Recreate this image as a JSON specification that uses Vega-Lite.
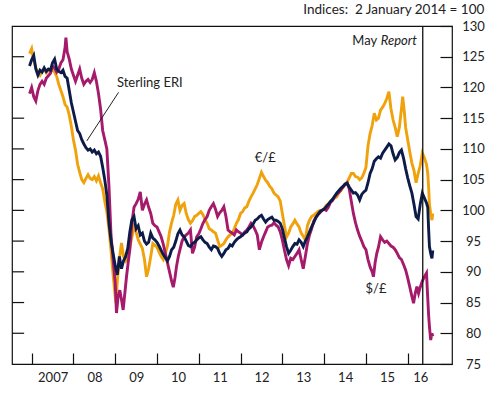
{
  "$schema": "https://vega.github.io/schema/vega-lite/v6.json",
  "width": 440,
  "height": 338,
  "autosize": "none",
  "padding": {"left": 12, "top": 26, "right": 40, "bottom": 31},
  "background": "white",
  "config": {
    "view": {"stroke": "#111", "strokeWidth": 1.2},
    "font": "Lato",
    "axis": {"labelFont": "Lato", "labelFontSize": 13, "labelColor": "#222", "tickColor": "#111", "tickWidth": 1.2, "domain": false, "grid": false, "title": null}
  },
  "title": {"text": "Indices:\u00a0 2 January 2014 = 100", "anchor": "end", "fontSize": 13.5, "fontWeight": "normal", "font": "Lato", "color": "#222", "offset": 4},
  "datasets": {
    "eur": [
      {"t":2006.95,"v":125.5},{"t":2007.0,"v":126.3},{"t":2007.03,"v":125.0},{"t":2007.05,"v":124.5},{"t":2007.1,"v":123.2},{"t":2007.15,"v":122.5},{"t":2007.2,"v":122.0},{"t":2007.25,"v":122.6},{"t":2007.3,"v":123.0},{"t":2007.35,"v":122.4},{"t":2007.4,"v":122.8},{"t":2007.45,"v":122.5},{"t":2007.5,"v":123.0},{"t":2007.55,"v":122.5},{"t":2007.6,"v":121.8},{"t":2007.65,"v":120.5},{"t":2007.7,"v":119.5},{"t":2007.75,"v":118.5},{"t":2007.8,"v":117.2},{"t":2007.85,"v":116.8},{"t":2007.9,"v":115.5},{"t":2007.95,"v":113.7},{"t":2008.0,"v":111.5},{"t":2008.05,"v":109.8},{"t":2008.1,"v":107.5},{"t":2008.15,"v":106.2},{"t":2008.2,"v":105.0},{"t":2008.25,"v":104.5},{"t":2008.3,"v":105.2},{"t":2008.35,"v":105.8},{"t":2008.4,"v":105.2},{"t":2008.45,"v":105.0},{"t":2008.5,"v":105.5},{"t":2008.55,"v":104.8},{"t":2008.6,"v":105.6},{"t":2008.65,"v":104.5},{"t":2008.7,"v":103.5},{"t":2008.75,"v":101.5},{"t":2008.8,"v":99.8},{"t":2008.85,"v":97.0},{"t":2008.9,"v":93.5},{"t":2008.95,"v":89.5},{"t":2009.0,"v":86.0},{"t":2009.02,"v":84.9},{"t":2009.05,"v":88.5},{"t":2009.1,"v":92.0},{"t":2009.15,"v":94.7},{"t":2009.2,"v":92.5},{"t":2009.25,"v":91.8},{"t":2009.3,"v":92.5},{"t":2009.35,"v":94.0},{"t":2009.4,"v":95.7},{"t":2009.45,"v":97.3},{"t":2009.5,"v":96.5},{"t":2009.55,"v":95.2},{"t":2009.6,"v":94.5},{"t":2009.65,"v":93.8},{"t":2009.7,"v":92.0},{"t":2009.75,"v":89.2},{"t":2009.8,"v":90.5},{"t":2009.85,"v":92.5},{"t":2009.9,"v":94.6},{"t":2009.95,"v":94.3},{"t":2010.0,"v":94.0},{"t":2010.05,"v":93.2},{"t":2010.1,"v":92.5},{"t":2010.15,"v":92.0},{"t":2010.2,"v":93.0},{"t":2010.25,"v":94.2},{"t":2010.3,"v":96.5},{"t":2010.35,"v":98.0},{"t":2010.4,"v":99.2},{"t":2010.45,"v":101.0},{"t":2010.5,"v":101.7},{"t":2010.55,"v":100.0},{"t":2010.6,"v":100.8},{"t":2010.65,"v":101.1},{"t":2010.7,"v":99.5},{"t":2010.75,"v":98.5},{"t":2010.8,"v":97.9},{"t":2010.85,"v":98.3},{"t":2010.9,"v":99.0},{"t":2010.95,"v":99.2},{"t":2011.0,"v":99.5},{"t":2011.05,"v":99.8},{"t":2011.1,"v":99.3},{"t":2011.15,"v":98.5},{"t":2011.2,"v":97.9},{"t":2011.25,"v":97.0},{"t":2011.3,"v":96.8},{"t":2011.35,"v":96.5},{"t":2011.4,"v":96.3},{"t":2011.45,"v":95.2},{"t":2011.5,"v":94.1},{"t":2011.55,"v":94.3},{"t":2011.6,"v":94.6},{"t":2011.65,"v":95.2},{"t":2011.7,"v":95.7},{"t":2011.75,"v":96.0},{"t":2011.8,"v":96.3},{"t":2011.85,"v":97.0},{"t":2011.9,"v":97.9},{"t":2011.95,"v":98.5},{"t":2012.0,"v":99.5},{"t":2012.05,"v":99.8},{"t":2012.1,"v":100.4},{"t":2012.15,"v":100.6},{"t":2012.2,"v":101.5},{"t":2012.25,"v":102.2},{"t":2012.3,"v":102.8},{"t":2012.35,"v":103.5},{"t":2012.4,"v":104.2},{"t":2012.45,"v":105.2},{"t":2012.5,"v":106.2},{"t":2012.55,"v":105.5},{"t":2012.6,"v":104.9},{"t":2012.65,"v":104.5},{"t":2012.7,"v":103.9},{"t":2012.75,"v":103.5},{"t":2012.8,"v":102.8},{"t":2012.85,"v":102.5},{"t":2012.9,"v":102.2},{"t":2012.95,"v":101.5},{"t":2013.0,"v":99.5},{"t":2013.05,"v":97.5},{"t":2013.1,"v":95.7},{"t":2013.15,"v":96.3},{"t":2013.2,"v":97.3},{"t":2013.25,"v":97.8},{"t":2013.3,"v":98.4},{"t":2013.35,"v":97.8},{"t":2013.4,"v":97.3},{"t":2013.45,"v":96.3},{"t":2013.5,"v":95.8},{"t":2013.55,"v":95.2},{"t":2013.6,"v":97.5},{"t":2013.65,"v":98.4},{"t":2013.7,"v":99.0},{"t":2013.75,"v":99.2},{"t":2013.8,"v":99.5},{"t":2013.85,"v":99.8},{"t":2013.9,"v":100.0},{"t":2013.95,"v":100.0},{"t":2014.0,"v":100.3},{"t":2014.05,"v":100.8},{"t":2014.1,"v":101.0},{"t":2014.15,"v":101.5},{"t":2014.2,"v":101.7},{"t":2014.25,"v":102.0},{"t":2014.3,"v":102.2},{"t":2014.35,"v":102.8},{"t":2014.4,"v":103.3},{"t":2014.45,"v":103.7},{"t":2014.5,"v":104.2},{"t":2014.55,"v":104.6},{"t":2014.6,"v":105.3},{"t":2014.65,"v":106.0},{"t":2014.7,"v":106.0},{"t":2014.75,"v":105.5},{"t":2014.8,"v":105.4},{"t":2014.85,"v":105.0},{"t":2014.9,"v":105.3},{"t":2014.95,"v":106.0},{"t":2015.0,"v":107.0},{"t":2015.05,"v":110.5},{"t":2015.1,"v":112.5},{"t":2015.15,"v":113.8},{"t":2015.2,"v":115.8},{"t":2015.25,"v":114.7},{"t":2015.3,"v":115.0},{"t":2015.35,"v":116.3},{"t":2015.4,"v":116.8},{"t":2015.45,"v":117.4},{"t":2015.5,"v":118.2},{"t":2015.55,"v":119.3},{"t":2015.6,"v":116.5},{"t":2015.65,"v":114.7},{"t":2015.7,"v":113.5},{"t":2015.75,"v":112.0},{"t":2015.8,"v":113.5},{"t":2015.85,"v":116.5},{"t":2015.88,"v":118.5},{"t":2015.92,"v":116.0},{"t":2015.95,"v":113.5},{"t":2016.0,"v":111.5},{"t":2016.05,"v":109.5},{"t":2016.1,"v":107.7},{"t":2016.15,"v":106.5},{"t":2016.2,"v":104.5},{"t":2016.25,"v":106.0},{"t":2016.3,"v":107.3},{"t":2016.35,"v":109.3},{"t":2016.4,"v":108.5},{"t":2016.45,"v":107.5},{"t":2016.48,"v":106.0},{"t":2016.5,"v":103.8},{"t":2016.52,"v":101.0},{"t":2016.55,"v":99.5},{"t":2016.58,"v":98.4},{"t":2016.6,"v":99.5}
    ],
    "usd": [
      {"t":2006.95,"v":119.0},{"t":2007.0,"v":120.0},{"t":2007.05,"v":118.5},{"t":2007.1,"v":117.8},{"t":2007.15,"v":119.5},{"t":2007.2,"v":120.5},{"t":2007.25,"v":121.0},{"t":2007.3,"v":120.5},{"t":2007.35,"v":121.5},{"t":2007.4,"v":121.9},{"t":2007.45,"v":122.3},{"t":2007.5,"v":123.5},{"t":2007.55,"v":123.2},{"t":2007.6,"v":122.5},{"t":2007.65,"v":123.0},{"t":2007.7,"v":124.0},{"t":2007.75,"v":124.5},{"t":2007.8,"v":126.5},{"t":2007.82,"v":128.1},{"t":2007.85,"v":125.8},{"t":2007.9,"v":124.6},{"t":2007.95,"v":123.0},{"t":2008.0,"v":122.0},{"t":2008.05,"v":121.0},{"t":2008.1,"v":122.0},{"t":2008.15,"v":123.0},{"t":2008.2,"v":121.5},{"t":2008.25,"v":120.5},{"t":2008.3,"v":121.0},{"t":2008.35,"v":121.3},{"t":2008.4,"v":120.8},{"t":2008.45,"v":121.3},{"t":2008.5,"v":122.4},{"t":2008.55,"v":121.0},{"t":2008.6,"v":119.0},{"t":2008.65,"v":116.5},{"t":2008.7,"v":113.0},{"t":2008.75,"v":111.5},{"t":2008.8,"v":110.0},{"t":2008.85,"v":104.0},{"t":2008.9,"v":96.0},{"t":2008.95,"v":92.0},{"t":2009.0,"v":88.2},{"t":2009.03,"v":83.3},{"t":2009.07,"v":86.0},{"t":2009.11,"v":87.0},{"t":2009.15,"v":85.5},{"t":2009.19,"v":83.8},{"t":2009.23,"v":86.5},{"t":2009.27,"v":89.2},{"t":2009.31,"v":91.5},{"t":2009.35,"v":93.6},{"t":2009.4,"v":98.0},{"t":2009.45,"v":100.5},{"t":2009.5,"v":101.1},{"t":2009.55,"v":101.8},{"t":2009.6,"v":103.0},{"t":2009.65,"v":100.0},{"t":2009.7,"v":101.0},{"t":2009.75,"v":101.7},{"t":2009.8,"v":100.5},{"t":2009.85,"v":99.5},{"t":2009.9,"v":97.9},{"t":2009.95,"v":97.5},{"t":2010.0,"v":97.3},{"t":2010.05,"v":96.5},{"t":2010.1,"v":95.7},{"t":2010.15,"v":94.5},{"t":2010.2,"v":93.0},{"t":2010.25,"v":91.5},{"t":2010.3,"v":90.0},{"t":2010.35,"v":88.5},{"t":2010.39,"v":87.5},{"t":2010.43,"v":89.0},{"t":2010.47,"v":91.0},{"t":2010.51,"v":92.5},{"t":2010.55,"v":93.6},{"t":2010.6,"v":95.0},{"t":2010.65,"v":95.7},{"t":2010.7,"v":96.0},{"t":2010.75,"v":96.3},{"t":2010.8,"v":96.8},{"t":2010.85,"v":93.0},{"t":2010.9,"v":94.0},{"t":2010.95,"v":95.7},{"t":2011.0,"v":96.2},{"t":2011.05,"v":97.0},{"t":2011.1,"v":97.9},{"t":2011.15,"v":98.5},{"t":2011.2,"v":99.0},{"t":2011.25,"v":100.0},{"t":2011.3,"v":100.6},{"t":2011.35,"v":101.1},{"t":2011.4,"v":100.2},{"t":2011.45,"v":99.0},{"t":2011.5,"v":99.6},{"t":2011.55,"v":100.0},{"t":2011.6,"v":100.6},{"t":2011.65,"v":99.0},{"t":2011.7,"v":96.8},{"t":2011.75,"v":96.5},{"t":2011.8,"v":96.3},{"t":2011.85,"v":96.0},{"t":2011.9,"v":96.8},{"t":2011.95,"v":96.5},{"t":2012.0,"v":96.3},{"t":2012.05,"v":96.0},{"t":2012.1,"v":96.5},{"t":2012.15,"v":96.8},{"t":2012.2,"v":97.3},{"t":2012.25,"v":97.9},{"t":2012.3,"v":97.5},{"t":2012.35,"v":96.8},{"t":2012.4,"v":96.0},{"t":2012.45,"v":93.6},{"t":2012.5,"v":94.8},{"t":2012.55,"v":95.7},{"t":2012.6,"v":96.5},{"t":2012.65,"v":97.3},{"t":2012.7,"v":97.5},{"t":2012.75,"v":97.6},{"t":2012.8,"v":98.0},{"t":2012.85,"v":97.6},{"t":2012.9,"v":97.3},{"t":2012.95,"v":96.5},{"t":2013.0,"v":95.2},{"t":2013.05,"v":93.5},{"t":2013.1,"v":92.0},{"t":2013.15,"v":91.0},{"t":2013.2,"v":92.2},{"t":2013.25,"v":92.0},{"t":2013.3,"v":92.5},{"t":2013.35,"v":93.0},{"t":2013.4,"v":93.6},{"t":2013.45,"v":92.0},{"t":2013.5,"v":90.5},{"t":2013.55,"v":92.5},{"t":2013.6,"v":94.6},{"t":2013.65,"v":96.0},{"t":2013.7,"v":97.0},{"t":2013.75,"v":98.2},{"t":2013.8,"v":98.8},{"t":2013.85,"v":99.3},{"t":2013.9,"v":99.6},{"t":2013.95,"v":100.0},{"t":2014.0,"v":100.2},{"t":2014.05,"v":100.0},{"t":2014.1,"v":100.5},{"t":2014.15,"v":101.3},{"t":2014.2,"v":101.6},{"t":2014.25,"v":102.2},{"t":2014.3,"v":102.6},{"t":2014.35,"v":102.9},{"t":2014.4,"v":103.3},{"t":2014.45,"v":103.8},{"t":2014.5,"v":104.2},{"t":2014.55,"v":104.5},{"t":2014.6,"v":103.5},{"t":2014.65,"v":101.5},{"t":2014.7,"v":99.5},{"t":2014.75,"v":98.0},{"t":2014.8,"v":96.8},{"t":2014.85,"v":95.8},{"t":2014.9,"v":95.0},{"t":2014.95,"v":94.1},{"t":2015.0,"v":93.6},{"t":2015.05,"v":92.0},{"t":2015.1,"v":90.8},{"t":2015.15,"v":90.0},{"t":2015.18,"v":89.2},{"t":2015.22,"v":91.5},{"t":2015.26,"v":93.0},{"t":2015.3,"v":94.0},{"t":2015.35,"v":95.7},{"t":2015.4,"v":95.2},{"t":2015.45,"v":94.8},{"t":2015.5,"v":95.0},{"t":2015.55,"v":94.6},{"t":2015.6,"v":94.2},{"t":2015.65,"v":94.0},{"t":2015.7,"v":93.6},{"t":2015.75,"v":93.0},{"t":2015.8,"v":92.3},{"t":2015.85,"v":92.0},{"t":2015.9,"v":91.2},{"t":2015.95,"v":90.3},{"t":2016.0,"v":89.0},{"t":2016.05,"v":87.5},{"t":2016.1,"v":86.0},{"t":2016.14,"v":84.9},{"t":2016.18,"v":86.5},{"t":2016.22,"v":87.6},{"t":2016.26,"v":86.5},{"t":2016.3,"v":87.5},{"t":2016.35,"v":88.5},{"t":2016.4,"v":89.2},{"t":2016.45,"v":89.8},{"t":2016.47,"v":87.0},{"t":2016.5,"v":83.0},{"t":2016.52,"v":81.1},{"t":2016.55,"v":78.9},{"t":2016.58,"v":80.0},{"t":2016.6,"v":79.5}
    ],
    "eri": [
      {"t":2006.95,"v":123.5},{"t":2007.0,"v":124.5},{"t":2007.05,"v":125.2},{"t":2007.1,"v":123.0},{"t":2007.15,"v":122.0},{"t":2007.2,"v":122.8},{"t":2007.25,"v":122.5},{"t":2007.3,"v":123.2},{"t":2007.35,"v":122.6},{"t":2007.4,"v":123.0},{"t":2007.45,"v":122.8},{"t":2007.5,"v":124.0},{"t":2007.55,"v":124.6},{"t":2007.6,"v":123.0},{"t":2007.65,"v":122.6},{"t":2007.7,"v":122.4},{"t":2007.75,"v":122.8},{"t":2007.8,"v":121.8},{"t":2007.85,"v":121.5},{"t":2007.9,"v":119.5},{"t":2007.95,"v":117.5},{"t":2008.0,"v":116.0},{"t":2008.05,"v":114.5},{"t":2008.1,"v":113.0},{"t":2008.15,"v":112.5},{"t":2008.2,"v":111.5},{"t":2008.25,"v":110.8},{"t":2008.3,"v":110.2},{"t":2008.35,"v":109.8},{"t":2008.4,"v":110.0},{"t":2008.45,"v":109.5},{"t":2008.5,"v":109.8},{"t":2008.55,"v":109.2},{"t":2008.6,"v":109.5},{"t":2008.65,"v":108.8},{"t":2008.7,"v":107.0},{"t":2008.75,"v":105.0},{"t":2008.8,"v":102.5},{"t":2008.85,"v":98.0},{"t":2008.9,"v":95.0},{"t":2008.95,"v":93.0},{"t":2009.0,"v":91.0},{"t":2009.05,"v":89.5},{"t":2009.1,"v":92.5},{"t":2009.15,"v":90.5},{"t":2009.2,"v":91.8},{"t":2009.25,"v":92.5},{"t":2009.3,"v":93.8},{"t":2009.35,"v":96.5},{"t":2009.4,"v":98.5},{"t":2009.45,"v":99.0},{"t":2009.5,"v":97.0},{"t":2009.55,"v":97.5},{"t":2009.6,"v":96.0},{"t":2009.65,"v":96.3},{"t":2009.7,"v":95.0},{"t":2009.75,"v":94.5},{"t":2009.8,"v":94.8},{"t":2009.85,"v":96.3},{"t":2009.9,"v":95.5},{"t":2009.95,"v":95.2},{"t":2010.0,"v":94.8},{"t":2010.05,"v":94.2},{"t":2010.1,"v":93.5},{"t":2010.15,"v":92.8},{"t":2010.2,"v":92.3},{"t":2010.25,"v":91.8},{"t":2010.3,"v":92.5},{"t":2010.35,"v":93.6},{"t":2010.4,"v":94.0},{"t":2010.45,"v":95.0},{"t":2010.5,"v":96.2},{"t":2010.55,"v":96.8},{"t":2010.6,"v":96.0},{"t":2010.65,"v":95.7},{"t":2010.7,"v":95.0},{"t":2010.75,"v":94.3},{"t":2010.8,"v":94.1},{"t":2010.85,"v":94.6},{"t":2010.9,"v":94.8},{"t":2010.95,"v":95.2},{"t":2011.0,"v":95.5},{"t":2011.05,"v":95.7},{"t":2011.1,"v":95.2},{"t":2011.15,"v":94.8},{"t":2011.2,"v":94.6},{"t":2011.25,"v":94.0},{"t":2011.3,"v":93.6},{"t":2011.35,"v":94.2},{"t":2011.4,"v":94.1},{"t":2011.45,"v":93.8},{"t":2011.5,"v":93.0},{"t":2011.55,"v":92.5},{"t":2011.6,"v":93.0},{"t":2011.65,"v":93.6},{"t":2011.7,"v":93.8},{"t":2011.75,"v":94.4},{"t":2011.8,"v":94.2},{"t":2011.85,"v":94.8},{"t":2011.9,"v":95.2},{"t":2011.95,"v":95.5},{"t":2012.0,"v":95.7},{"t":2012.05,"v":96.0},{"t":2012.1,"v":96.3},{"t":2012.15,"v":96.5},{"t":2012.2,"v":97.0},{"t":2012.25,"v":97.3},{"t":2012.3,"v":97.8},{"t":2012.35,"v":98.4},{"t":2012.4,"v":98.6},{"t":2012.45,"v":99.0},{"t":2012.5,"v":99.2},{"t":2012.55,"v":98.6},{"t":2012.6,"v":98.1},{"t":2012.65,"v":98.5},{"t":2012.7,"v":98.7},{"t":2012.75,"v":98.9},{"t":2012.8,"v":98.4},{"t":2012.85,"v":98.4},{"t":2012.9,"v":98.2},{"t":2012.95,"v":97.9},{"t":2013.0,"v":97.0},{"t":2013.05,"v":95.5},{"t":2013.1,"v":94.1},{"t":2013.15,"v":93.0},{"t":2013.2,"v":93.5},{"t":2013.25,"v":94.1},{"t":2013.3,"v":94.6},{"t":2013.35,"v":94.5},{"t":2013.4,"v":95.2},{"t":2013.45,"v":94.8},{"t":2013.5,"v":94.1},{"t":2013.55,"v":95.0},{"t":2013.6,"v":95.7},{"t":2013.65,"v":96.5},{"t":2013.7,"v":97.3},{"t":2013.75,"v":98.0},{"t":2013.8,"v":98.8},{"t":2013.85,"v":99.3},{"t":2013.9,"v":99.8},{"t":2013.95,"v":100.0},{"t":2014.0,"v":100.2},{"t":2014.05,"v":100.6},{"t":2014.1,"v":101.0},{"t":2014.15,"v":101.4},{"t":2014.2,"v":101.8},{"t":2014.25,"v":102.3},{"t":2014.3,"v":102.8},{"t":2014.35,"v":103.2},{"t":2014.4,"v":103.6},{"t":2014.45,"v":103.9},{"t":2014.5,"v":104.3},{"t":2014.55,"v":104.4},{"t":2014.6,"v":103.8},{"t":2014.65,"v":103.3},{"t":2014.7,"v":102.8},{"t":2014.75,"v":102.9},{"t":2014.8,"v":102.5},{"t":2014.85,"v":101.7},{"t":2014.9,"v":102.6},{"t":2014.95,"v":103.0},{"t":2015.0,"v":103.3},{"t":2015.05,"v":104.5},{"t":2015.1,"v":106.0},{"t":2015.15,"v":106.8},{"t":2015.2,"v":108.0},{"t":2015.25,"v":108.4},{"t":2015.3,"v":108.7},{"t":2015.35,"v":108.5},{"t":2015.4,"v":109.3},{"t":2015.45,"v":109.8},{"t":2015.5,"v":110.3},{"t":2015.55,"v":110.8},{"t":2015.6,"v":110.5},{"t":2015.65,"v":109.2},{"t":2015.7,"v":108.2},{"t":2015.75,"v":108.6},{"t":2015.8,"v":109.4},{"t":2015.85,"v":109.8},{"t":2015.9,"v":108.5},{"t":2015.95,"v":106.8},{"t":2016.0,"v":105.3},{"t":2016.05,"v":104.0},{"t":2016.1,"v":102.8},{"t":2016.15,"v":101.0},{"t":2016.2,"v":99.0},{"t":2016.25,"v":98.6},{"t":2016.3,"v":101.0},{"t":2016.35,"v":102.8},{"t":2016.4,"v":102.0},{"t":2016.45,"v":101.2},{"t":2016.48,"v":100.5},{"t":2016.5,"v":97.0},{"t":2016.52,"v":94.1},{"t":2016.55,"v":93.0},{"t":2016.58,"v":92.2},{"t":2016.6,"v":93.5}
    ],
    "lticks": [{"v":80},{"v":85},{"v":90},{"v":95},{"v":100},{"v":105},{"v":110},{"v":115},{"v":120},{"v":125}],
    "labels": [
      {"t":2012.59,"v":108.5,"label":"€/£"},
      {"t":2015.24,"v":87.2,"label":"$/£"}
    ],
    "eriLabel": [
      {"t":2009.04,"v":120.8,"label":"Sterling ERI"}
    ],
    "may": [
      {"t":2015.27,"v":127.5,"label":"May"}
    ],
    "italic": [
      {"t":2016.22,"v":127.5,"label":"Report"}
    ],
    "leader": [
      {"t":2009.08,"v":119.2,"t2":2008.32,"v2":111.3}
    ],
    "report": [
      {"t":2016.36}
    ]
  },
  "resolve": {"axis": {"y": "independent"}},
  "layer": [
    {
      "data": {"name": "eur"},
      "mark": {"type": "line", "color": "#f0a20c", "strokeWidth": 2.9},
      "encoding": {
        "x": {"field": "t", "type": "quantitative", "scale": {"domain": [2006.53, 2017.06], "nice": false, "zero": false},
          "axis": {"values": [2007,2008,2009,2010,2011,2012,2013,2014,2015,2016], "tickSize": -11, "labelPadding": 18, "labelExpr": "datum.value == 2007 ? '2007' : substring(toString(datum.value), 2, 4)", "labelOffset": {"condition": {"test": "datum.value == 2016", "value": 12.6}, "value": 21}, "labelBaseline": "top", "labelOverlap": false}},
        "y": {"field": "v", "type": "quantitative", "scale": {"domain": [75, 130], "nice": false, "zero": false},
          "axis": {"orient": "right", "values": [75,80,85,90,95,100,105,110,115,120,125,130], "tickSize": -12, "labelPadding": 33, "labelAlign": "center", "labelBaseline": "middle", "labelFlush": false, "labelOverlap": false}}
      }
    },
    {
      "data": {"name": "usd"},
      "mark": {"type": "line", "color": "#a51a6b", "strokeWidth": 2.9},
      "encoding": {
        "x": {"field": "t", "type": "quantitative"},
        "y": {"field": "v", "type": "quantitative", "axis": null}
      }
    },
    {
      "data": {"name": "eri"},
      "mark": {"type": "line", "color": "#0d1b48", "strokeWidth": 2.9},
      "encoding": {
        "x": {"field": "t", "type": "quantitative"},
        "y": {"field": "v", "type": "quantitative", "axis": null}
      }
    },
    {
      "data": {"name": "lticks"},
      "mark": {"type": "rule", "color": "#111", "strokeWidth": 1.2},
      "encoding": {
        "x": {"datum": 2006.53, "type": "quantitative"},
        "x2": {"datum": 2006.82},
        "y": {"field": "v", "type": "quantitative", "axis": null}
      }
    },
    {
      "data": {"name": "report"},
      "mark": {"type": "rule", "color": "#111", "strokeWidth": 1.3},
      "encoding": {"x": {"field": "t", "type": "quantitative"}}
    },
    {
      "data": {"name": "leader"},
      "mark": {"type": "rule", "color": "#222", "strokeWidth": 1},
      "encoding": {
        "x": {"field": "t", "type": "quantitative"}, "x2": {"field": "t2"},
        "y": {"field": "v", "type": "quantitative", "axis": null}, "y2": {"field": "v2"}
      }
    },
    {
      "data": {"name": "labels"},
      "mark": {"type": "text", "font": "Lato", "fontSize": 13, "color": "#222", "align": "center", "baseline": "middle"},
      "encoding": {
        "x": {"field": "t", "type": "quantitative"},
        "y": {"field": "v", "type": "quantitative", "axis": null},
        "text": {"field": "label"}
      }
    },
    {
      "data": {"name": "eriLabel"},
      "mark": {"type": "text", "font": "Lato", "fontSize": 13, "color": "#222", "align": "left", "baseline": "middle"},
      "encoding": {
        "x": {"field": "t", "type": "quantitative"},
        "y": {"field": "v", "type": "quantitative", "axis": null},
        "text": {"field": "label"}
      }
    },
    {
      "data": {"name": "may"},
      "mark": {"type": "text", "font": "Lato", "fontSize": 13, "color": "#222", "align": "right", "baseline": "middle"},
      "encoding": {
        "x": {"field": "t", "type": "quantitative"},
        "y": {"field": "v", "type": "quantitative", "axis": null},
        "text": {"field": "label"}
      }
    },
    {
      "data": {"name": "italic"},
      "mark": {"type": "text", "font": "Lato", "fontSize": 13, "fontStyle": "italic", "color": "#222", "align": "right", "baseline": "middle"},
      "encoding": {
        "x": {"field": "t", "type": "quantitative"},
        "y": {"field": "v", "type": "quantitative", "axis": null},
        "text": {"field": "label"}
      }
    }
  ]
}
